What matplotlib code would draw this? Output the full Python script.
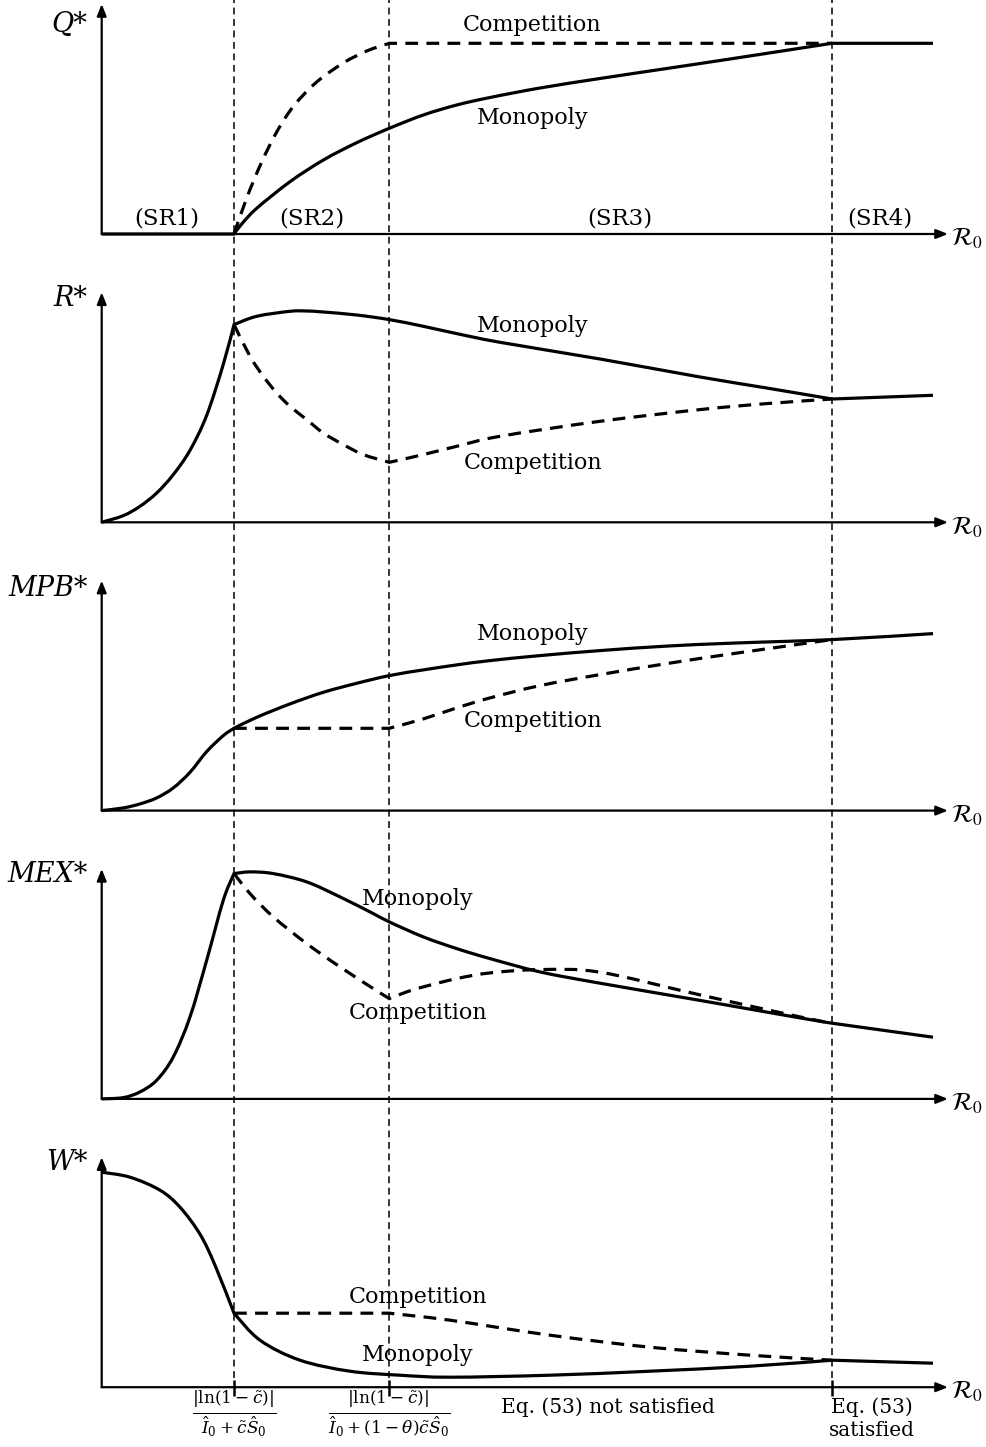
import matplotlib
matplotlib.use('Agg')
import matplotlib.pyplot as plt
from matplotlib.path import Path
from matplotlib.patches import PathPatch

plt.rcParams['font.family'] = ['DejaVu Serif']
plt.rcParams['mathtext.fontset'] = 'dejavuserif'

# ---------------- data (schematic values) ----------------
breaks = [1.323, 2.876, 7.303]
x_max = 8.463
y_max = 2.30

panel_labels = ['Q*', 'R*', 'MPB*', 'MEX*', 'W*']
panel_label_y = [2.09, 2.24, 2.216, 2.249, 2.242]
region_labels = ['(SR1)', '(SR2)', '(SR3)', '(SR4)']
region_x = [0.653, 2.103, 5.183, 7.783]

# Q*
q_mono_x = [0, 1.323, 1.40, 1.55, 1.883, 2.217, 2.55, 2.876, 3.216, 3.55, 3.883, 4.383, 4.983, 5.65, 6.316,
            7.303, 8.313]
q_mono_y = [0, 0, 0.10, 0.257, 0.523, 0.74, 0.913, 1.057, 1.19, 1.29, 1.365, 1.46, 1.555, 1.655, 1.755,
            1.907, 1.907]
q_comp_x = [1.323, 1.45, 1.60, 1.75, 1.92, 2.15, 2.416, 2.65, 2.876, 7.303]
q_comp_y = [0, 0.36, 0.72, 1.02, 1.28, 1.52, 1.71, 1.83, 1.907, 1.907]

# R*
r_mono_x = [0, 0.217, 0.383, 0.55, 0.716, 0.883, 1.05, 1.216, 1.323, 1.55, 1.883, 2.05, 2.216, 2.55, 2.876,
            3.216, 3.55, 3.983, 4.983, 5.983, 6.65, 7.303, 8.313]
r_mono_y = [0, 0.067, 0.16, 0.293, 0.477, 0.72, 1.07, 1.58, 1.977, 2.06, 2.11, 2.113, 2.103, 2.073, 2.027,
            1.96, 1.887, 1.80, 1.633, 1.453, 1.343, 1.233, 1.27]
r_comp_x = [1.323, 1.483, 1.616, 1.75, 1.883, 2.05, 2.216, 2.416, 2.616, 2.876, 3.216, 3.55, 3.983, 4.983,
            5.983, 6.65, 7.303]
r_comp_y = [1.977, 1.66, 1.46, 1.293, 1.16, 1.027, 0.893, 0.777, 0.677, 0.60, 0.677, 0.76, 0.86, 1.01,
            1.127, 1.187, 1.233]

# MPB*
m_mono_x = [0, 0.217, 0.383, 0.55, 0.716, 0.883, 1.05, 1.216, 1.323, 1.55, 1.883, 2.216, 2.55, 2.876,
            3.216, 3.55, 3.883, 4.383, 4.983, 5.65, 6.316, 7.303, 8.313]
m_mono_y = [0, 0.027, 0.067, 0.127, 0.227, 0.383, 0.59, 0.75, 0.823, 0.933, 1.067, 1.183, 1.273, 1.35,
            1.407, 1.457, 1.50, 1.55, 1.60, 1.645, 1.675, 1.71, 1.77]
m_comp_x = [1.323, 2.876, 3.216, 3.55, 3.883, 4.383, 4.983, 5.65, 6.316, 7.303]
m_comp_y = [0.823, 0.823, 0.917, 1.027, 1.127, 1.25, 1.36, 1.47, 1.57, 1.71]

# MEX*
e_mono_x = [0, 0.217, 0.383, 0.55, 0.716, 0.883, 1.05, 1.216, 1.323, 1.483, 1.716, 2.05, 2.383, 2.716,
            2.876, 3.216, 3.55, 3.883, 4.383, 4.983, 5.983, 6.983, 7.303, 8.313]
e_mono_y = [0, 0.013, 0.07, 0.187, 0.42, 0.82, 1.387, 1.987, 2.253, 2.27, 2.253, 2.17, 2.02, 1.853,
            1.77, 1.62, 1.503, 1.403, 1.27, 1.157, 0.985, 0.81, 0.757, 0.617]
e_comp_x = [1.323, 1.483, 1.716, 2.05, 2.383, 2.716, 2.876, 3.05, 3.216, 3.55, 3.883, 4.383, 4.983,
            5.983, 6.983, 7.303]
e_comp_y = [2.253, 2.053, 1.82, 1.553, 1.32, 1.103, 1.003, 1.07, 1.12, 1.203, 1.26, 1.293, 1.267,
            1.04, 0.82, 0.757]

# W*
w_mono_x = [0, 0.283, 0.583, 0.783, 0.983, 1.133, 1.323, 1.583, 1.983, 2.483, 2.983, 3.483, 4.483,
            5.483, 6.483, 7.303, 8.313]
w_mono_y = [2.15, 2.10, 1.97, 1.80, 1.53, 1.22, 0.74, 0.47, 0.27, 0.16, 0.12, 0.10, 0.12,
            0.16, 0.21, 0.27, 0.24]
w_comp_x = [1.323, 2.876, 3.483, 4.483, 5.483, 6.483, 7.303]
w_comp_y = [0.74, 0.74, 0.67, 0.52, 0.40, 0.32, 0.27]

series = [
    (q_mono_x, q_mono_y, q_comp_x, q_comp_y),
    (r_mono_x, r_mono_y, r_comp_x, r_comp_y),
    (m_mono_x, m_mono_y, m_comp_x, m_comp_y),
    (e_mono_x, e_mono_y, e_comp_x, e_comp_y),
    (w_mono_x, w_mono_y, w_comp_x, w_comp_y),
]
# corners (x positions where a curve has a kink)
mono_kinks = [[1.323, 7.303], [1.323, 7.303], [1.323], [1.323, 7.303], [1.323, 7.303]]
comp_kinks = [[2.876], [2.876], [2.876], [2.876], [2.876]]

# curve label positions (x, y) for Monopoly / Competition
mono_lab = [(4.313, 1.16), (4.313, 1.967), (4.313, 1.77), (3.163, 1.997), (3.163, 0.32)]
comp_lab = [(4.303, 2.09), (4.313, 0.597), (4.313, 0.90), (3.163, 0.857), (3.163, 0.90)]


def smooth_path(xs, ys, kinks):
    """Bezier path through the given points (Catmull-Rom), with corners at kinks."""
    pts = list(zip(xs, ys))
    pieces, cur = [], [pts[0]]
    for j, p in enumerate(pts[1:], start=1):
        cur.append(p)
        if any(abs(p[0] - k) < 1e-9 for k in kinks) and j < len(pts) - 1:
            pieces.append(cur)
            cur = [p]
    pieces.append(cur)
    verts, codes = [pts[0]], [Path.MOVETO]
    for pc in pieces:
        n = len(pc)
        for i in range(n - 1):
            p0 = pc[i - 1] if i > 0 else pc[i]
            p1 = pc[i]
            p2 = pc[i + 1]
            p3 = pc[i + 2] if i + 2 < n else pc[i + 1]
            c1 = (p1[0] + (p2[0] - p0[0]) / 6, p1[1] + (p2[1] - p0[1]) / 6)
            c2 = (p2[0] - (p3[0] - p1[0]) / 6, p2[1] - (p3[1] - p1[1]) / 6)
            verts += [c1, c2, p2]
            codes += [Path.CURVE4] * 3
    return Path(verts, codes)


# ---------------- figure ----------------
W, H = 987, 1447
fig = plt.figure(figsize=(W / 100, H / 100), dpi=100)

left_px, right_px = 101.7, 948.0
axis_px = [234 + 288.3 * k for k in range(5)]
panel_h = 230.0

lw_curve = 2.3
lw_axis = 1.6
fs_text = 16

axes = []
for k in range(5):
    ax = fig.add_axes([left_px / W, 1 - axis_px[k] / H, (right_px - left_px) / W, panel_h / H])
    ax.set_xlim(0, x_max)
    ax.set_ylim(0, y_max)
    ax.axis('off')
    axes.append(ax)
    mx, my, cx, cy = series[k]
    ax.add_patch(PathPatch(smooth_path(cx, cy, comp_kinks[k]), fill=False, edgecolor='black',
                           lw=lw_curve, ls=(0, (4.0, 2.6)), clip_on=False, zorder=3,
                           capstyle='butt'))
    ax.add_patch(PathPatch(smooth_path(mx, my, mono_kinks[k]), fill=False, edgecolor='black',
                           lw=lw_curve, clip_on=False, zorder=4, capstyle='butt', joinstyle='miter'))
    # axes arrows
    ax.annotate('', xy=(0, 1), xytext=(0, 0), xycoords='axes fraction',
                arrowprops=dict(arrowstyle='-|>,head_length=0.7,head_width=0.28', color='black',
                                lw=lw_axis, shrinkA=0, shrinkB=0), zorder=5)
    ax.annotate('', xy=(1, 0), xytext=(0, 0), xycoords='axes fraction',
                arrowprops=dict(arrowstyle='-|>,head_length=0.7,head_width=0.28', color='black',
                                lw=lw_axis, shrinkA=0, shrinkB=0), zorder=5)
    ax.text(-0.14, panel_label_y[k], panel_labels[k], ha='right', va='center', fontsize=19.5,
            style='italic')
    ax.text(1.003, -0.02, r'$\mathcal{R}_0$', transform=ax.transAxes, ha='left', va='center',
            fontsize=18, math_fontfamily='stix')
    ax.text(mono_lab[k][0], mono_lab[k][1], 'Monopoly', ha='center', va='center', fontsize=fs_text,
            zorder=2)
    ax.text(comp_lab[k][0], comp_lab[k][1], 'Competition', ha='center', va='center', fontsize=fs_text,
            zorder=2)

for lab, xr in zip(region_labels, region_x):
    axes[0].text(xr, 0.16, lab, ha='center', va='center', fontsize=16.5)

# vertical dashed separators across all panels
bg = fig.add_axes([left_px / W, 0, (right_px - left_px) / W, 1])
bg.set_xlim(0, x_max)
bg.set_ylim(0, 1)
bg.axis('off')
bg.vlines(breaks, 1 - 1378 / H, 1, colors='black', lw=1.1, linestyles=(0, (4.5, 3.0)))

# tick marks on the bottom axis
axb = axes[4]
axb.vlines(breaks, -0.09, 0.07, colors='black', lw=1.8, clip_on=False)

frac1 = r'$\frac{|\ln(1-\tilde{c})|}{\hat{I}_0+\tilde{c}\hat{S}_0}$'
frac2 = r'$\frac{|\ln(1-\tilde{c})|}{\hat{I}_0+(1-\theta)\tilde{c}\hat{S}_0}$'
axb.text(breaks[0], -0.27, frac1, ha='center', va='center', fontsize=17.5)
axb.text(breaks[1], -0.27, frac2, ha='center', va='center', fontsize=17.5)
axb.text(5.063, -0.20, 'Eq. (53) not satisfied', ha='center', va='center', fontsize=14.5)
axb.text(7.703, -0.20, 'Eq. (53)', ha='center', va='center', fontsize=14.5)
axb.text(7.703, -0.43, 'satisfied', ha='center', va='center', fontsize=14.5)

fig.savefig('out.png', dpi=100)
